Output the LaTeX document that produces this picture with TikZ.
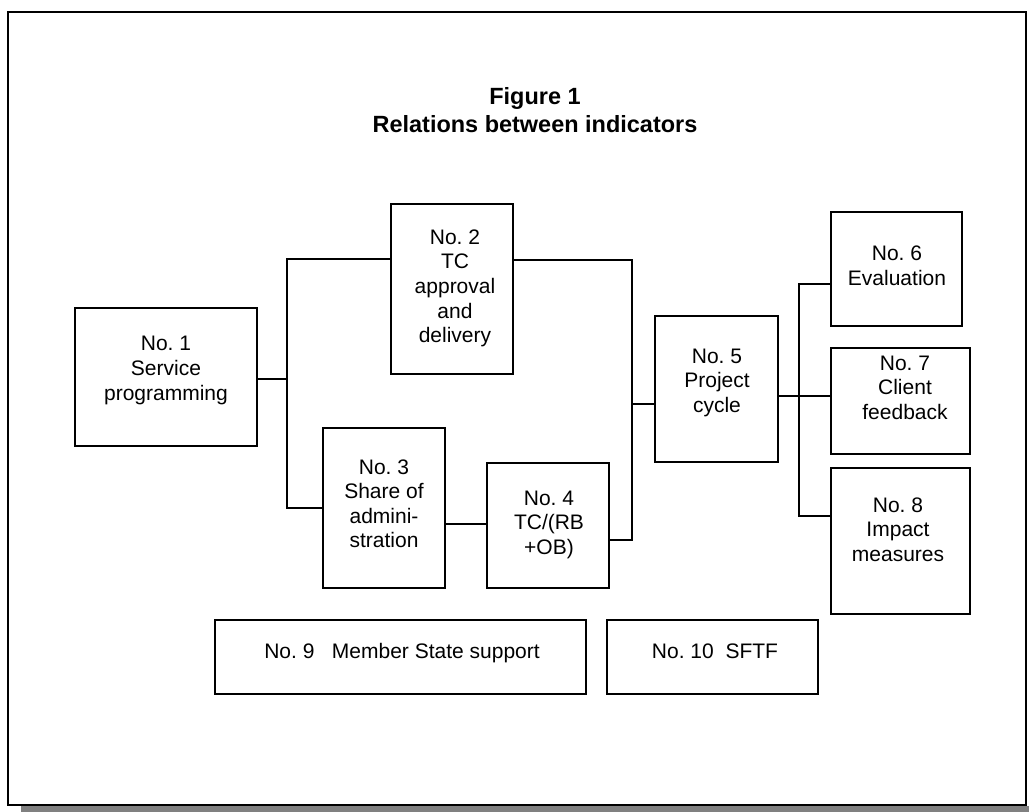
\documentclass[tikz,border=0pt]{standalone}
\usepackage{fontspec}
\setmainfont{Liberation Sans}
\frenchspacing
\begin{document}
\begin{tikzpicture}[x=0.75pt,y=-0.75pt,
  box/.style args={#1/#2}{draw, line width=1.5pt, inner sep=0pt, outer sep=0pt,
    minimum width=#1*0.75pt, minimum height=#2*0.75pt},
  txt/.style={align=center, inner sep=0pt, font=\fontsize{15.75}{18.4}\selectfont},
  titletxt/.style={align=center, inner sep=0pt, font=\bfseries\fontsize{17.6}{20.3}\selectfont},
  link/.style={line width=1.4pt}]
\useasboundingbox (0,0) rectangle (1029,812);
% frame and shadow
\fill[black!50] (21,806) rectangle (1029,812);
\draw[line width=1.6pt] (8,12) rectangle (1026,805);
% title
\node[titletxt] (title) at (535,113.1) {\strut Figure 1\\\strut Relations between indicators};
% boxes
\node[box=182/138] (b1) at (166,377) {};
\node[box=122/170] (b2) at (452,289) {};
\node[box=122/160] (b3) at (384,508) {};
\node[box=122/125] (b4) at (548,525.5) {};
\node[box=123/146] (b5) at (716.5,389) {};
\node[box=131/114] (b6) at (896.5,269) {};
\node[box=139/106] (b7) at (900.5,401) {};
\node[box=139/146] (b8) at (900.5,541) {};
\node[box=371/74] (b9) at (400.5,657) {};
\node[box=211/74] (b10) at (712.5,657) {};
% texts
\node[txt] (t1) at (166,370.6) {\strut No. 1\\\strut Service\\\strut programming};
\node[txt] (t2) at (455,288.6) {\strut No. 2\\\strut TC\\\strut approval\\\strut and\\\strut delivery};
\node[txt] (t3) at (384,506) {\strut No. 3\\\strut Share of\\\strut admini-\\\strut stration};
\node[txt] (t4) at (549,525) {\strut No. 4\\\strut TC/(RB\\\strut +OB)};
\node[txt] (t5) at (717,383) {\strut No. 5\\\strut Project\\\strut cycle};
\node[txt] (t6) at (897,268) {\strut No. 6\\\strut Evaluation};
\node[txt] (t7) at (905,390) {\strut No. 7\\\strut Client\\\strut feedback};
\node[txt] (t8) at (898,532) {\strut No. 8\\\strut Impact\\\strut measures};
\node[txt] (t9) at (402,653.6) {\strut No. 9~~~Member State support};
\node[txt] (t10) at (715,653.6) {\strut No. 10~~SFTF};
% junction coordinates
\coordinate (jt) at (287,259);
\coordinate (jm) at (287,379);
\coordinate (jb) at (287,508);
\coordinate (k34) at (466,524);
\coordinate (ct) at (632,260);
\coordinate (cm) at (632,404);
\coordinate (cb) at (632,540);
\coordinate (dt) at (799,284);
\coordinate (dm) at (799,396);
\coordinate (db) at (799,516);
% connectors
\draw[link] (b1.east |- jm) -- (jm);
\draw[link] (b2.west |- jt) -- (jt) -- (jb) -- (b3.west |- jb);
\draw[link] (b3.east |- k34) -- (b4.west |- k34);
\draw[link] (b2.east |- ct) -- (ct) -- (cb) -- (b4.east |- cb);
\draw[link] (cm) -- (b5.west |- cm);
\draw[link] (b5.east |- dm) -- (b7.west |- dm);
\draw[link] (b6.west |- dt) -- (dt) -- (db) -- (b8.west |- db);
\end{tikzpicture}
\end{document}
